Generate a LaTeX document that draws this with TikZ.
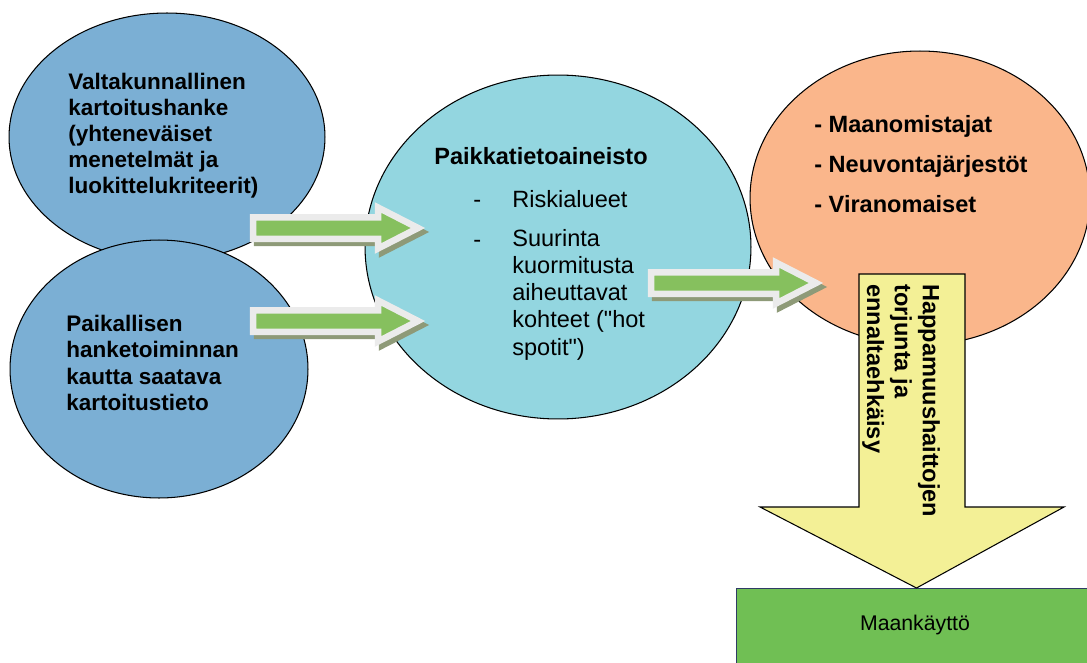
\documentclass[tikz,border=0pt]{standalone}
\usepackage{fontspec}
\setmainfont{Liberation Sans}[Ligatures=TeXOff]
\usetikzlibrary{shapes.geometric,positioning}

\definecolor{bluefill}{HTML}{7BAFD4}
\definecolor{cyanfill}{HTML}{93D6E0}
\definecolor{salmonfill}{HTML}{FAB68B}
\definecolor{yellowfill}{HTML}{F3F096}
\definecolor{landgreen}{HTML}{70BF54}
\definecolor{arrowgreen}{HTML}{86C05E}
\definecolor{arrowrim}{HTML}{EBEBEB}
\definecolor{arrowshade}{HTML}{8E9A78}
\definecolor{boxedge}{HTML}{2F3B66}

\tikzset{
  bubble/.style={ellipse, draw=black, line width=0.6pt, inner sep=0pt},
  lefttext/.style={font=\fontsize{12.8}{14.8}\selectfont\bfseries, align=left, inner sep=0pt, anchor=base west},
  midtext/.style={font=\fontsize{13.4}{15.4}\selectfont, align=left, inner sep=0pt, anchor=base west},
  actortext/.style={font=\fontsize{13.4}{22.8}\selectfont\bfseries, align=left, inner sep=0pt, anchor=base west},
  pics/flowarrow/.style={code={
    \filldraw[arrowshade, line width=1.3mm, line join=miter, shift={(4,4)}]
      (0,-10.75) -- (125,-10.75) -- (125,-20.5) -- (165,0) -- (125,20.5) -- (125,10.75) -- (0,10.75) -- cycle;
    \filldraw[fill=arrowgreen, draw=arrowrim, line width=1.3mm, line join=miter]
      (0,-10.75) -- (125,-10.75) -- (125,-20.5) -- (165,0) -- (125,20.5) -- (125,10.75) -- (0,10.75) -- cycle;
  }}
}

\begin{document}
\begin{tikzpicture}[x=0.02cm, y=-0.02cm]
    \clip (0,0) rectangle (1087,662);

    % left bubbles
    \node[bubble, fill=bluefill, minimum width=63.2mm, minimum height=49.6mm] (national) at (167,137) {};
    \node[bubble, fill=bluefill, minimum width=59.6mm, minimum height=51.6mm] (local) at (159,369) {};

    % middle and right bubbles
    \node[bubble, fill=cyanfill, minimum width=77.2mm, minimum height=68.8mm] (gisdata) at (558,247) {};
    \node[bubble, fill=salmonfill, minimum width=68mm, minimum height=58.8mm] (actors) at (920,198) {};

    % land use box
    \node[draw=boxedge, line width=0.6pt, fill=landgreen, minimum width=72mm, minimum height=18mm, anchor=north west] (land) at (736,588) {};
    \node[font=\fontsize{12.1}{14}\selectfont, inner sep=0pt, anchor=base] (landlabel) at (915,630) {Maankäyttö};

    % big yellow arrow
    \filldraw[fill=yellowfill, draw=black, line width=0.6pt]
      (859,274) -- (965,274) -- (965,507) -- (1064,507) -- (land.north) -- (760,507) -- (859,507) -- cycle;
    \node[rotate=-90, font=\fontsize{13.4}{15.9}\selectfont\bfseries, align=left, inner sep=0pt, anchor=base west] (prevention) at (867,284)
      {Happamuushaittojen\\torjunta ja\\ennaltaehkäisy};

    % green arrows
    \pic at (253,228) {flowarrow};
    \pic at (253,321) {flowarrow};
    \pic at (651,283) {flowarrow};

    % texts (anchored at the baseline of the last line)
    \node[lefttext] (nationaltext) at (68,194)
      {Valtakunnallinen\\kartoitushanke\\(yhteneväiset\\menetelmät ja\\luokittelukriteerit)};
    \node[lefttext] (localtext) at (66,410)
      {Paikallisen\\hanketoiminnan\\kautta saatava\\kartoitustieto};

    \node[midtext, font=\fontsize{13.4}{15.4}\selectfont\bfseries] (gistitle) at (434,165) {Paikkatietoaineisto};
    \node[midtext] (dash1) at (473,207) {-};
    \node[midtext] (item1) at (512,207) {Riskialueet};
    \node[midtext] (dash2) at (473,247) {-};
    \node[midtext] (item2) at (512,355)
      {Suurinta\\kuormitusta\\aiheuttavat\\kohteet ("hot\\spotit")};

    \node[actortext] (actorlist) at (814,213)
      {- Maanomistajat\\- Neuvontajärjestöt\\- Viranomaiset};
\end{tikzpicture}
\end{document}
